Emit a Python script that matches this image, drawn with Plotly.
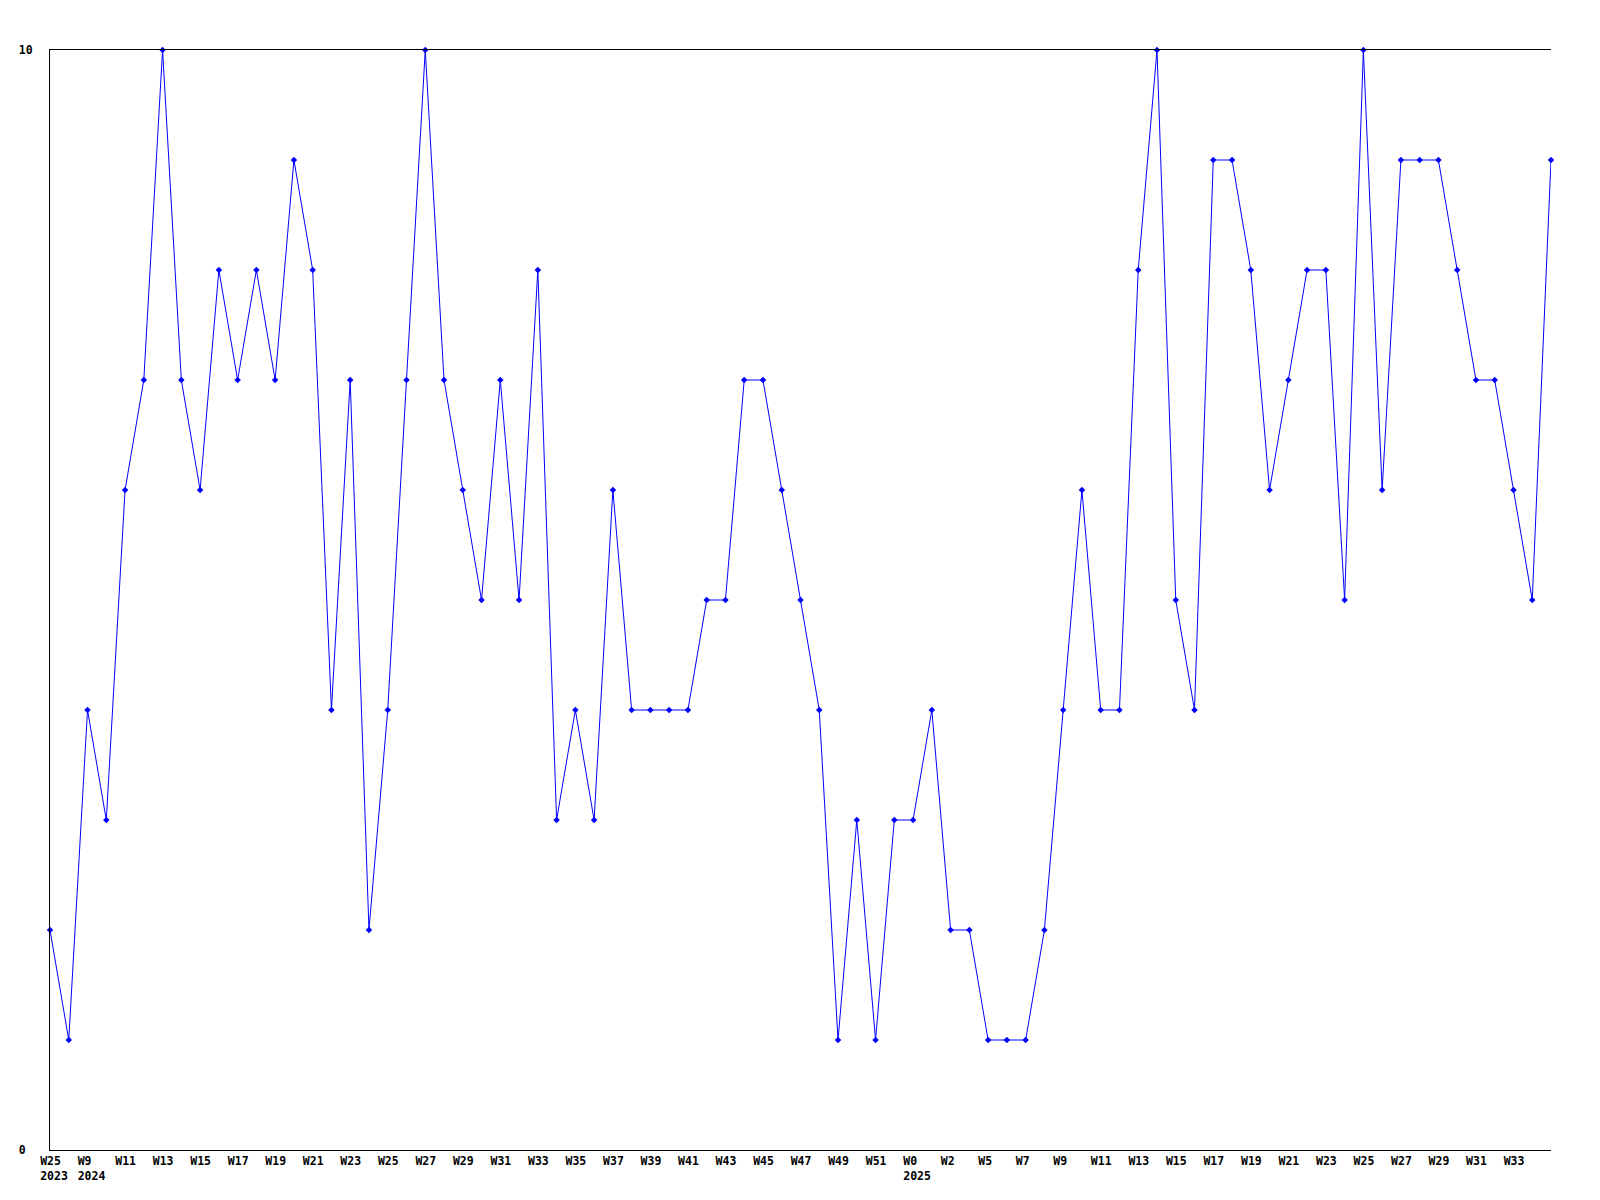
import plotly.graph_objects as go

NB = "\u00a0"

# Week labels for each data point (81 weekly points)
weeks = (["W25", "W8"]
         + [f"W{w}" for w in range(9, 53)]
         + ["W0", "W1", "W2", "W4"]
         + [f"W{w}" for w in range(5, 36)])
years = {0: "2023", 2: "2024", 46: "2025"}

values = [2, 1, 4, 3, 6, 7, 10, 7, 6, 8,
          7, 8, 7, 9, 8, 4, 7, 2, 4, 7,
          10, 7, 6, 5, 7, 5, 8, 3, 4, 3,
          6, 4, 4, 4, 4, 5, 5, 7, 7, 6,
          5, 4, 1, 3, 1, 3, 3, 4, 2, 2,
          1, 1, 1, 2, 4, 6, 4, 4, 8, 10,
          5, 4, 9, 9, 8, 6, 7, 8, 8, 5,
          10, 6, 9, 9, 9, 8, 7, 7, 6, 5, 9]

y_tick_vals = [0, 10]
y_tick_text = ["0" + NB, "10"]

x = list(range(len(values)))

tick_vals = [i for i in x if i % 2 == 0 and i < len(values) - 1]


def pad(s, n=4):
    return s + NB * (n - len(s))


tick_text = []
for i in tick_vals:
    t = pad(weeks[i])
    if i in years:
        t += "<br>" + pad(years[i])
    tick_text.append(t)

fig = go.Figure()
fig.add_trace(go.Scatter(
    x=x, y=values,
    mode="lines+markers",
    line=dict(color="#0000ff", width=1),
    marker=dict(symbol="diamond", size=5, color="#0000ff"),
    cliponaxis=False,
    hoverinfo="skip",
))

fig.update_layout(
    width=1600, height=1200,
    margin=dict(l=42, r=57, t=42, b=58),
    paper_bgcolor="white", plot_bgcolor="white",
    showlegend=False,
    font=dict(family="DejaVu Sans Mono", size=11.5, color="black", weight="bold"),
)
fig.update_xaxes(
    range=[0, len(values) - 1],
    tickmode="array", tickvals=tick_vals, ticktext=tick_text,
    showgrid=False, zeroline=False,
    showline=True, linecolor="black", linewidth=1, mirror=True,
    ticks="", ticklabelshift=4, ticklabelstandoff=0,
)
fig.update_yaxes(
    range=[0, 10],
    tickmode="array", tickvals=y_tick_vals, ticktext=y_tick_text,
    showgrid=False, zeroline=False,
    showline=True, linecolor="black", linewidth=1,
    ticks="", ticklabelstandoff=14,
)

fig.write_html("out.html")
